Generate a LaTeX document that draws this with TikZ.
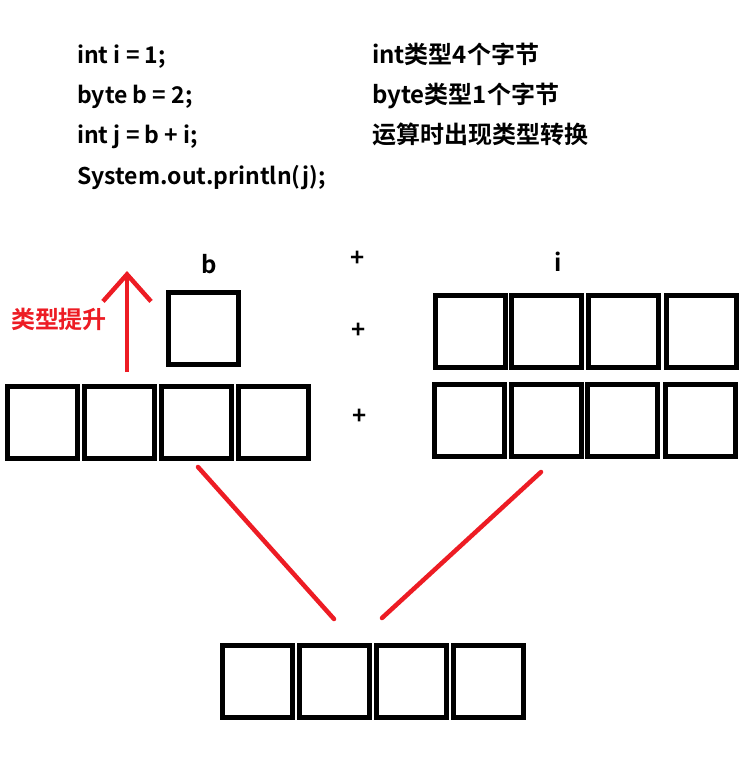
\documentclass[tikz,border=0pt]{standalone}
\usepackage{fontspec}
\setmainfont{Noto Sans CJK SC}[BoldFont={Noto Sans CJK SC Bold}]
\usetikzlibrary{arrows.meta}
\definecolor{pred}{HTML}{ED1C24}
\begin{document}
\begin{tikzpicture}[x=1pt,y=-1pt,
  cell/.style={draw, line width=5pt, minimum width=70pt, minimum height=72pt, inner sep=0pt, outer sep=0pt},
  code/.style={anchor=base west, inner sep=0pt, font=\fontsize{23}{28}\selectfont\bfseries},
  note/.style={anchor=base west, inner sep=0pt, font=\fontsize{24}{28}\selectfont\bfseries},
  lbl/.style={anchor=base, inner sep=0pt, font=\fontsize{24}{28}\selectfont\bfseries},
  plus/.style={inner sep=0pt, font=\fontsize{24}{26}\selectfont\bfseries},
  redline/.style={draw=pred, line width=4.5pt, line cap=round},
  redtext/.style={inner sep=0pt, text=pred, font=\fontsize{24}{28}\selectfont\bfseries}]
\useasboundingbox[fill=white] (0,0) rectangle (753,763);

% code lines
\node[code] (c1) at (77,63) {int i = 1;};
\node[code] (c2) at (77,103) {byte b = 2;};
\node[code] (c3) at (77,143.5) {int j = b + i;};
\node[code] (c4) at (77,184) {System.out.println(j);};
\node[note] (r1) at (372,63) {int类型4个字节};
\node[note] (r2) at (372,103) {byte类型1个字节};
\node[note] (r3) at (372,143.5) {运算时出现类型转换};

% labels
\node[lbl] (lb) at (209,273) {b};
\node[lbl] (li) at (558,271) {i};
\node[plus] (p1) at (358,259) {+};
\node[plus] (p2) at (359,331) {+};
\node[plus] (p3) at (360,417) {+};
\node[redtext] (up) at (59,319) {类型提升};

% b box
\node[cell] (bb) at (203,328.5) {};
% promoted b
\node[cell] (pb1) at (42,422.5) {};
\node[cell] (pb2) at (119.5,422.5) {};
\node[cell] (pb3) at (196,422.5) {};
\node[cell] (pb4) at (273,422.5) {};
% i top row
\node[cell] (it1) at (470,331) {};
\node[cell] (it2) at (546.5,331) {};
\node[cell] (it3) at (623,331) {};
\node[cell] (it4) at (701,331) {};
% i bottom row
\node[cell] (ib1) at (469.5,420.5) {};
\node[cell] (ib2) at (546,420.5) {};
\node[cell] (ib3) at (622.5,420.5) {};
\node[cell] (ib4) at (700.5,420.5) {};
% result
\node[cell] (j1) at (257.5,681.5) {};
\node[cell] (j2) at (334,681.5) {};
\node[cell] (j3) at (411.5,681.5) {};
\node[cell] (j4) at (488.5,681.5) {};

% red arrow
\coordinate (a0) at (127,372);
\coordinate (a1) at (127,271);
\draw[redline, line cap=butt, -{Straight Barb[length=27pt,width=48pt]}] (a0) -- (a1);

% red lines
\coordinate (l1) at (198,467);
\coordinate (l2) at (334,619);
\coordinate (m1) at (541,472);
\coordinate (m2) at (382,618);
\draw[redline] (l1) -- (l2);
\draw[redline] (m1) -- (m2);
\end{tikzpicture}
\end{document}
